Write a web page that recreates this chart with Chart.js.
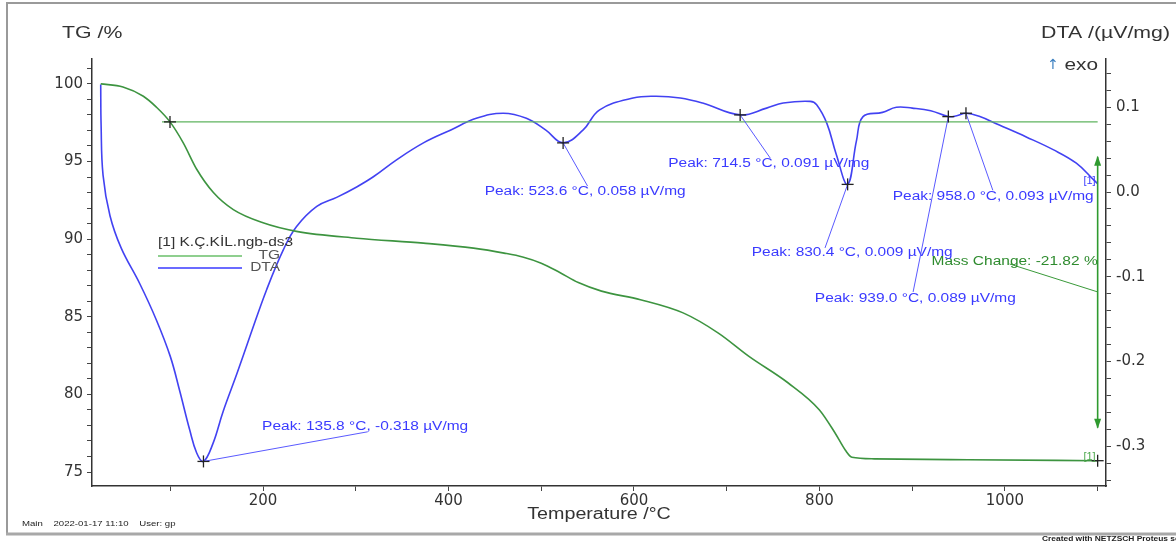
<!DOCTYPE html>
<html>
<head>
<meta charset="utf-8">
<script src="https://cdn.jsdelivr.net/npm/chart.js@4.4.1/dist/chart.umd.min.js"></script>
<style>
html,body{margin:0;padding:0;background:#fff;}
#wrap{width:1176px;height:543px;position:relative;}
</style>
</head>
<body>
<div id="wrap"><canvas id="c" width="1176" height="543"></canvas></div>
<script>
// ---------- data ----------
const tgTemp = [25,49,71,85,99.7,114,128.5,146.5,168,200,236,301,373,427,460,480,500,520,540,565,607,653,691,724,766,800,817,828,835,859,960,1100];
const tgMass = [100,99.8,99.2,98.5,97.55,96.2,94.5,93.0,91.9,91.05,90.5,90.06,89.74,89.42,89.1,88.85,88.45,87.85,87.2,86.65,86.1,85.25,83.95,82.45,80.75,79.0,77.5,76.4,75.95,75.85,75.79,75.73];

const dtaTemp = [25,25.4,27.5,35,47,67,85,100,110,121,128.5,135.8,146,157,172,186,204,222,236,258,280,301,319,344,373,402,430,459,484,505,523.6,545,563,599,624,650,674,714.5,743,761,790,797,808,818,830.4,840,847,868,883,900,920,939,948,958,973,994,1023,1052,1077,1096,1100];
const dtaSignal = [0.127,0.08,0.02,-0.028,-0.066,-0.108,-0.151,-0.194,-0.234,-0.281,-0.308,-0.318,-0.297,-0.259,-0.214,-0.170,-0.115,-0.068,-0.041,-0.017,-0.006,0.006,0.018,0.038,0.058,0.073,0.087,0.093,0.087,0.073,0.058,0.073,0.097,0.111,0.113,0.111,0.105,0.091,0.099,0.105,0.107,0.103,0.081,0.045,0.009,0.061,0.089,0.094,0.100,0.099,0.096,0.089,0.090,0.093,0.089,0.079,0.065,0.050,0.034,0.014,0.010];

// peak annotations
const peakTemps  = [135.8, 523.6, 714.5, 830.4, 939.0, 958.0];
const peakValues = [-0.318, 0.058, 0.091, 0.009, 0.089, 0.093];
const peakLabelTemps  = [199, 439, 637, 727, 795, 879];
const peakLabelValues = [-0.277, 0.0, 0.033, -0.072, -0.126, -0.005];
const peakLeaderTemps  = [313, 550, 747, 806, 901, 987];
const peakLeaderValues = [-0.283, 0.007, 0.040, -0.066, -0.118, 0.002];

// mass change
const massStartTemp = 99.7, massStartValue = 97.55;
const massEndTemp = 1100, massEndValue = 75.73;
const massChange = -21.82;
const massArrowTop = 95.3, massArrowBottom = 77.85;
const massLabelTemp = 1100, massLabelValue = 88.54;
const massLeaderStart = [1005, 88.4], massLeaderEnd = [1100, 86.6];

// ticks
const tempTickLabels = [200,400,600,800,1000];
const tgTickLabels = [75,80,85,90,95,100];
const dtaTickLabels = [-0.3,-0.2,-0.1,0.0,0.1];

const sampleName = '[1] K.Ç.KİL.ngb-ds3';

// ---------- helpers ----------
const SX = 1.29;
function sText(ctx, text, x, y, align, font, color, sx) {
  sx = sx || SX;
  ctx.save();
  ctx.font = font; ctx.fillStyle = color; ctx.textBaseline = 'middle'; ctx.textAlign = 'left';
  const w = ctx.measureText(text).width * sx;
  const x0 = align === 'left' ? x : (align === 'right' ? x - w : x - w / 2);
  ctx.translate(x0, y); ctx.scale(sx, 1); ctx.fillText(text, 0, 0);
  ctx.restore();
}
function line(ctx, x1, y1, x2, y2, color, w) {
  ctx.save(); ctx.strokeStyle = color; ctx.lineWidth = w; ctx.beginPath();
  ctx.moveTo(x1, y1); ctx.lineTo(x2, y2); ctx.stroke(); ctx.restore();
}
function cross(ctx, x, y) {
  line(ctx, x - 6, y, x + 6, y, '#222', 1.3);
  line(ctx, x, y - 6, x, y + 6, '#222', 1.3);
}

const decor = {
  id: 'decor',
  beforeDraw(chart) {
    const ctx = chart.ctx;
    ctx.save();
    ctx.fillStyle = '#fff'; ctx.fillRect(0, 0, chart.width, chart.height);
    ctx.strokeStyle = '#9a9a9a'; ctx.lineWidth = 2;
    ctx.beginPath(); ctx.moveTo(7, 534); ctx.lineTo(7, 3); ctx.lineTo(1176, 3); ctx.stroke();
    ctx.strokeStyle = '#a8a8a8'; ctx.lineWidth = 3;
    ctx.beginPath(); ctx.moveTo(6, 534); ctx.lineTo(1176, 534); ctx.stroke();
    ctx.restore();
  },
  afterDatasetsDraw(chart) {
    const ctx = chart.ctx;
    const xs = chart.scales.x, yt = chart.scales.yTG, yd = chart.scales.yDTA;
    const X = v => xs.getPixelForValue(v);
    // mass change reference line
    line(ctx, X(massStartTemp) - 8, yt.getPixelForValue(massStartValue), X(massEndTemp), yt.getPixelForValue(massStartValue), '#5fb35f', 1.2);
    // vertical double arrow
    const ax = X(massEndTemp), aT = yt.getPixelForValue(massArrowTop), aB = yt.getPixelForValue(massArrowBottom);
    line(ctx, ax, aT, ax, aB, '#2f9a2f', 1.6);
    ctx.save(); ctx.fillStyle = '#2f9a2f';
    ctx.beginPath(); ctx.moveTo(ax, aT - 1); ctx.lineTo(ax - 3.5, aT + 9); ctx.lineTo(ax + 3.5, aT + 9); ctx.closePath(); ctx.fill();
    ctx.beginPath(); ctx.moveTo(ax, aB + 1); ctx.lineTo(ax - 3.5, aB - 9); ctx.lineTo(ax + 3.5, aB - 9); ctx.closePath(); ctx.fill();
    ctx.restore();
    // mass change label
    line(ctx, X(massLeaderStart[0]), yt.getPixelForValue(massLeaderStart[1]), X(massLeaderEnd[0]), yt.getPixelForValue(massLeaderEnd[1]), '#3a9a3a', 1);
    sText(ctx, 'Mass Change: ' + massChange.toFixed(2) + ' %', X(massLabelTemp), yt.getPixelForValue(massLabelValue), 'right', '12px "Liberation Sans", Arial', '#2e8b2e');
    // TG markers
    cross(ctx, X(massStartTemp), yt.getPixelForValue(massStartValue));
    cross(ctx, X(massEndTemp), yt.getPixelForValue(massEndValue));
    // peaks
    for (let i = 0; i < peakTemps.length; i++) {
      const px = X(peakTemps[i]), py = yd.getPixelForValue(peakValues[i]);
      line(ctx, px, py, X(peakLeaderTemps[i]), yd.getPixelForValue(peakLeaderValues[i]), '#5a5aff', 1);
      cross(ctx, px, py);
      const txt = 'Peak: ' + peakTemps[i].toFixed(1) + ' °C, ' + peakValues[i].toFixed(3) + ' µV/mg';
      sText(ctx, txt, X(peakLabelTemps[i]), yd.getPixelForValue(peakLabelValues[i]), 'left', '12px "Liberation Sans", Arial', '#3a3aff');
    }
    // [1] curve end tags
    sText(ctx, '[1]', X(1100) - 2, yd.getPixelForValue(dtaSignal[dtaSignal.length - 1]) - 2, 'right', '10px "Liberation Sans", Arial', '#3a3aff', 1.1);
    sText(ctx, '[1]', X(1100) - 2, yt.getPixelForValue(tgMass[tgMass.length - 1]) - 3, 'right', '10px "Liberation Sans", Arial', '#4aa84a', 1.1);
    // legend
    sText(ctx, sampleName, 158, 243, 'left', '12px "Liberation Sans", Arial', '#333');
    line(ctx, 158, 256, 242, 256, '#8fcf8f', 2);
    sText(ctx, 'TG', 280, 256, 'right', '12px "Liberation Sans", Arial', '#555');
    line(ctx, 158, 268, 242, 268, '#6b6bff', 2);
    sText(ctx, 'DTA', 280, 268, 'right', '12px "Liberation Sans", Arial', '#555');
  },
  afterDraw(chart) {
    const ctx = chart.ctx;
    const ca = chart.chartArea;
    sText(ctx, 'TG /%', 62, 34, 'left', '16px "Liberation Sans", Arial', '#333', 1.33);
    sText(ctx, 'DTA /(µV/mg)', 1170, 34, 'right', '16px "Liberation Sans", Arial', '#333', 1.33);
    sText(ctx, 'exo', 1098, 66, 'right', '16px "Liberation Sans", Arial', '#333', 1.3);
    sText(ctx, '↑', 1053, 65, 'center', '14px "DejaVu Sans"', '#3a7fc0', 1.0);
    sText(ctx, 'Temperature /°C', (ca.left + ca.right) / 2, 515, 'center', '16px "Liberation Sans", Arial', '#333', 1.23);
    sText(ctx, 'Main    2022-01-17 11:10    User: gp', 22, 524, 'left', '8px "Liberation Sans", Arial', '#222', 1.2);
    sText(ctx, 'Created with NETZSCH Proteus software', 1042, 539, 'left', 'bold 7px "Liberation Sans", Arial', '#222', 1.2);
  }
};

function gridOpts() {
  return { drawOnChartArea: false, drawTicks: true, tickLength: 5, color: '#444', lineWidth: 1 };
}

const xTicks = []; for (let t = 100; t <= 1100; t += 100) xTicks.push(t);
const tgTicks = []; for (let v = 75; v <= 101; v++) tgTicks.push(v);
const dtaTicks = []; for (let i = -17; i <= 7; i++) dtaTicks.push(i * 2 / 100);

new Chart(document.getElementById('c'), {
  type: 'line',
  data: {
    datasets: [
      { label: 'TG', data: tgTemp.map((t, i) => ({x: t, y: tgMass[i]})), yAxisID: 'yTG',
        borderColor: '#3d9440', borderWidth: 1.6, pointRadius: 0, cubicInterpolationMode: 'monotone', fill: false },
      { label: 'DTA', data: dtaTemp.map((t, i) => ({x: t, y: dtaSignal[i]})), yAxisID: 'yDTA',
        borderColor: '#4242f2', borderWidth: 1.6, pointRadius: 0, tension: 0.4, fill: false }
    ]
  },
  options: {
    responsive: false, animation: false, devicePixelRatio: 1,
    layout: { padding: { top: 59, left: 0, right: 0, bottom: 0 } },
    plugins: { legend: { display: false }, tooltip: { enabled: false }, title: { display: false } },
    scales: {
      x: {
        type: 'linear', position: 'bottom', min: 15.6, max: 1109,
        afterBuildTicks: s => { s.ticks = xTicks.map(v => ({value: v})); },
        afterFit: s => { s.height = 57; },
        grid: gridOpts(), border: { display: true, color: '#333', width: 1.5 },
        ticks: { autoSkip: false, maxRotation: 0, padding: 1, color: '#333', font: { family: 'DejaVu Sans', size: 15 },
          callback: v => tempTickLabels.includes(v) ? String(v) : '' }
      },
      yTG: {
        type: 'linear', position: 'left', min: 74.1, max: 101.6,
        afterBuildTicks: s => { s.ticks = tgTicks.map(v => ({value: v})); },
        afterFit: s => { s.width = 92; },
        grid: gridOpts(), border: { display: true, color: '#333', width: 1.5 },
        ticks: { autoSkip: false, padding: 4, color: '#333', font: { family: 'DejaVu Sans', size: 15 },
          callback: v => tgTickLabels.includes(v) ? String(v) : '' }
      },
      yDTA: {
        type: 'linear', position: 'right', min: -0.347, max: 0.157,
        afterBuildTicks: s => { s.ticks = dtaTicks.map(v => ({value: v})); },
        afterFit: s => { s.width = 70; },
        grid: gridOpts(), border: { display: true, color: '#333', width: 1.5 },
        ticks: { autoSkip: false, padding: 5, color: '#333', font: { family: 'DejaVu Sans', size: 15 },
          callback: v => dtaTickLabels.some(l => Math.abs(l - v) < 1e-9) ? v.toFixed(1) : '' }
      }
    }
  },
  plugins: [decor]
});
</script>
</body>
</html>
